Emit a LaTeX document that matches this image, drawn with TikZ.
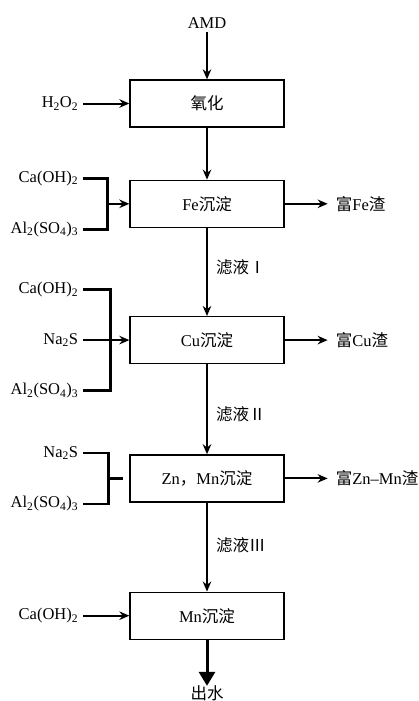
\documentclass[tikz,border=0pt]{standalone}
\usepackage{fontspec}
\setmainfont{Liberation Serif}
\newfontfamily\cjk{Noto Sans CJK SC}
\newcommand{\zh}[1]{{\cjk #1}}
\usetikzlibrary{arrows.meta, positioning}
\tikzstyle{process} = [rectangle, minimum height=47pt, minimum width=154pt, draw=black, line width=1.3pt, text centered]
\tikzstyle{reagent} = [inner xsep=5pt, inner ysep=2pt]
\tikzstyle{product} = [inner xsep=8pt, inner ysep=2pt]
\tikzstyle{filtrate} = [anchor=west, inner xsep=8pt]
\tikzstyle{arrow} = [line width=2pt, -{Stealth[length=10pt, width=8.5pt]}]
\tikzstyle{feed} = [line width=2.4pt]
\tikzstyle{bigarrow} = [line width=3pt, -{Triangle[length=14pt, width=16pt]}]

\begin{document}
\begin{tikzpicture}[font=\fontsize{16.5}{19}\selectfont]
\useasboundingbox (0,0) rectangle (419pt,-701pt);

% Nodes
\node[process] at (207pt,-103.5pt) (ox) {\zh{氧化}};
\node[process, below=52pt of ox] (fe) {Fe\zh{沉淀}};
\node[process, below=88pt of fe] (cu) {Cu\zh{沉淀}};
\node[process, below=90pt of cu] (zn) {Zn\zh{，}Mn\zh{沉淀}};
\node[process, below=89pt of zn] (mn) {Mn\zh{沉淀}};

\node[above=47pt of ox] (amd) {AMD};
\node[below=46pt of mn, inner sep=0pt] (out) {\zh{出水}};

% Reagents
\node[reagent, left=46pt of ox] (h2o2) {H\textsubscript{2}O\textsubscript{2}};
\node[reagent, left=46pt of fe.west, yshift=25.5pt] (ca1) {Ca(OH)\textsubscript{2}};
\node[reagent, left=46pt of fe.west, yshift=-25.5pt] (al1) {Al\textsubscript{2}(SO\textsubscript{4})\textsubscript{3}};
\node[reagent, left=46pt of cu.west, yshift=50.5pt] (ca2) {Ca(OH)\textsubscript{2}};
\node[reagent, left=46pt of cu.west] (na1) {Na\textsubscript{2}S};
\node[reagent, left=46pt of cu.west, yshift=-50.5pt] (al2) {Al\textsubscript{2}(SO\textsubscript{4})\textsubscript{3}};
\node[reagent, left=46pt of zn.west, yshift=25.5pt] (na2) {Na\textsubscript{2}S};
\node[reagent, left=46pt of zn.west, yshift=-25.5pt] (al3) {Al\textsubscript{2}(SO\textsubscript{4})\textsubscript{3}};
\node[reagent, left=46pt of mn] (ca3) {Ca(OH)\textsubscript{2}};

\coordinate[left=22pt of fe] (jfe);
\coordinate[left=19pt of cu] (jcu);
\coordinate[left=21pt of zn] (jzn);
\coordinate[left=6pt of zn] (zin);

% Products
\node[product, right=43pt of fe] (fes) {\zh{富}Fe\zh{渣}};
\node[product, right=43pt of cu] (cus) {\zh{富}Cu\zh{渣}};
\node[product, right=43pt of zn] (zns) {\zh{富}Zn--Mn\zh{渣}};

% Arrows
\draw[arrow] (amd) -- (ox);
\draw[arrow] (h2o2) -- (ox);
\draw[arrow] (ox) -- (fe);
\draw[arrow] (fe) -- node[filtrate, pos=0.45] (f1) {\zh{滤液Ⅰ}} (cu);
\draw[arrow] (cu) -- node[filtrate, pos=0.56] (f2) {\zh{滤液Ⅱ}} (zn);
\draw[arrow] (zn) -- node[filtrate, pos=0.48] (f3) {\zh{滤液Ⅲ}} (mn);
\draw[bigarrow] (mn) -- (out);

\draw[feed] (ca1.east) -| (jfe);
\draw[feed] (al1.east) -| (jfe);
\draw[arrow] (jfe) -- (fe);

\draw[feed] (ca2.east) -| (jcu);
\draw[feed] (al2.east) -| (jcu);
\draw[arrow] (na1) -- (cu);

\draw[feed] (na2.east) -| (jzn);
\draw[feed] (al3.east) -| (jzn);
\draw[feed] (jzn) -- (zin);

\draw[arrow] (ca3) -- (mn);

\draw[arrow] (fe) -- (fes);
\draw[arrow] (cu) -- (cus);
\draw[arrow] (zn) -- (zns);

\end{tikzpicture}
\end{document}
